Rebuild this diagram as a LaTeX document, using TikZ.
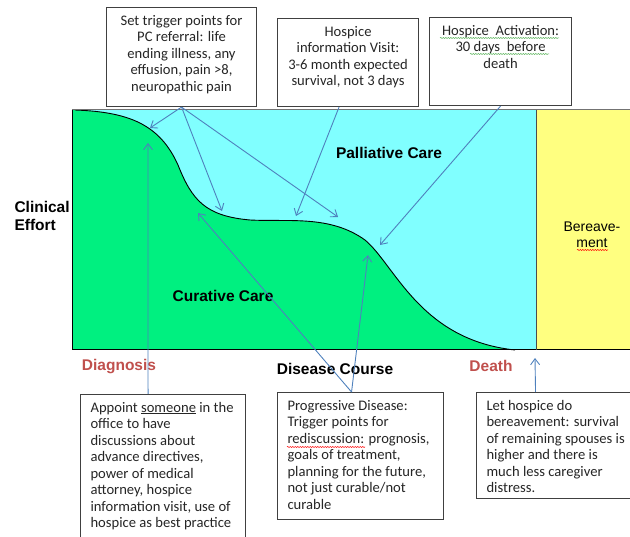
\documentclass[tikz,border=0pt]{standalone}
\usepackage{fontspec}
\setmainfont{Carlito}
\newfontfamily\arialfont{Liberation Sans}
\usetikzlibrary{arrows.meta,calc,decorations.pathmorphing}

\definecolor{curegreen}{RGB}{0,240,128}
\definecolor{palcyan}{RGB}{128,255,255}
\definecolor{beryellow}{RGB}{255,255,128}
\definecolor{arrblue}{RGB}{79,129,189}
\definecolor{labred}{RGB}{192,80,77}
\definecolor{spellgreen}{RGB}{90,180,90}

\tikzset{
  note/.style={draw=black!75, line width=1.1pt, fill=white, anchor=north west,
    inner xsep=10pt, inner ysep=6pt, text=black!85, font=\fontsize{14.6}{16.5}\selectfont},
  phase/.style={font=\arialfont\bfseries\fontsize{15.5}{18}\selectfont},
  pointer/.style={arrblue, line width=0.9pt, -{Straight Barb[length=6pt,width=9pt]}},
  squig/.style={decorate, decoration={snake, amplitude=0.6pt, segment length=2.5pt}, line width=0.5pt}
}

\begin{document}
\begin{tikzpicture}[x=1pt,y=-1pt]
    \useasboundingbox (0,0) rectangle (630,537);

    % chart areas
    \fill[palcyan] (72,110) rectangle (536,350);
    \fill[beryellow] (536,110) rectangle (630,350);
    \fill[curegreen] (72,110) -- (75,110) .. controls (130,112) and (160,125) .. (178,165)
        .. controls (192,200) and (205,216) .. (250,220)
        .. controls (290,222) and (330,215) .. (365,240)
        .. controls (395,265) and (420,340) .. (515,350) -- (72,350) -- cycle;
    \draw[line width=0.9pt] (75,110) .. controls (130,112) and (160,125) .. (178,165)
        .. controls (192,200) and (205,216) .. (250,220)
        .. controls (290,222) and (330,215) .. (365,240)
        .. controls (395,265) and (420,340) .. (515,350);
    \draw[black!55, line width=1pt] (72,110) -- (630,110);
    \draw[line width=1pt] (72,110) -- (72,350) -- (630,350);
    \draw[black!70, line width=1pt] (536,110) -- (536,350);

    % labels
    \node[phase] (pal) at (389,153) {Palliative Care};
    \node[phase] (cur) at (223,296) {Curative Care};
    \node[phase, anchor=west, align=left] (effort) at (11,216) {Clinical\\Effort};
    \node[font=\arialfont\fontsize{14}{16.5}\selectfont, align=center] (bereav) at (592,235) {Bereave-\\ment};
    \node[phase, text=labred] (diag) at (119,367) {Diagnosis};
    \node[phase] (course) at (335,369) {Disease Course};
    \node[phase, text=labred] (death) at (491,366) {Death};

    % notes
    \node[note] (trig) at (106,7) {\parbox[t][87pt][t]{130pt}{\centering\strut Set trigger points for\\PC referral: life\\ending illness, any\\effusion, pain >8,\\neuropathic pain}};
    \node[note] (visit) at (277,18) {\parbox[t][76pt][t]{121pt}{\centering\strut Hospice\\information Visit:\\3-6 month expected\\survival, not 3 days}};
    \node[note] (activ) at (429,17) {\parbox[t][76pt][t]{122pt}{\centering\strut Hospice\ \ Activation:\\30 days\ \ before\\death}};
    \node[note] (appoint) at (80,394) {\parbox[t][139pt][t]{145pt}{\raggedright\strut Appoint \underline{someone} in the\\office to have\\discussions about\\advance directives,\\power of medical\\attorney, hospice\\information visit, use of\\hospice as best practice}};
    \node[note] (progr) at (277,392) {\parbox[t][115pt][t]{146pt}{\raggedright\strut Progressive Disease:\\Trigger points for\\rediscussion: prognosis,\\goals of treatment,\\planning for the future,\\not just curable/not\\curable}};
    \node[note] (spouse) at (476,392) {\parbox[t][94pt][t]{144pt}{\raggedright\strut Let hospice do\\bereavement: survival\\of remaining spouses is\\higher and there is\\much less caregiver\\distress.}};

    % spelling marks
    \draw[squig, red] (577,250) -- (608,250);
    \draw[squig, red] (287,447) -- (365,447);
    \draw[squig, spellgreen] (440,38) -- (559,38);
    \draw[squig, spellgreen] (470,54) -- (549,54);

    % targets
    \coordinate (shoulder) at (150,128);
    \coordinate (dip) at (222,211);
    \coordinate (plateau) at (338,217);
    \coordinate (plateauleft) at (296,216);
    \coordinate (slope) at (380,245);
    \coordinate (onset) at (148,143);
    \coordinate (bend) at (198,213);
    \coordinate (lowslope) at (368,255);
    \coordinate (deathpt) at (535,358);

    \draw[pointer] (trig.south) -- (shoulder);
    \draw[pointer] (trig.south) -- (dip);
    \draw[pointer] (trig.south) -- (plateau);
    \draw[pointer] ([xshift=-9pt]visit.south) -- (plateauleft);
    \draw[pointer] (activ.south) -- (slope);
    \draw[pointer] ([xshift=-15pt]appoint.north) -- (onset);
    \draw[pointer] ([xshift=-9pt]progr.north) -- (bend);
    \draw[pointer] ([xshift=-9pt]progr.north) -- (lowslope);
    \draw[pointer] ([xshift=-23pt]spouse.north) -- (deathpt);

\end{tikzpicture}
\end{document}
